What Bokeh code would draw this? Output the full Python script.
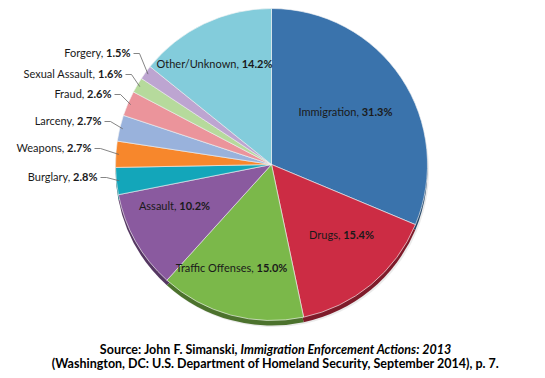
import glob
import numpy as np
from bokeh.plotting import figure
from bokeh.models import Range1d, ColumnDataSource
from bokeh.core.properties import value
from bokeh.embed import file_html
from bokeh.resources import INLINE

# ---------------- data ----------------
categories = ["Immigration", "Drugs", "Traffic Offenses", "Assault", "Burglary",
              "Weapons", "Larceny", "Fraud", "Sexual Assault", "Forgery", "Other/Unknown"]
shares = [31.3, 15.4, 15.0, 10.2, 2.8, 2.7, 2.7, 2.6, 1.6, 1.5, 14.2]
colors = ["#3A73AC", "#CC2C44", "#7BB84A", "#8A5A9F", "#13A6BA", "#F7872C",
          "#99B2DC", "#EB949B", "#B6DA9C", "#BDA5D1", "#83CCDB"]
source_line1 = "Source: John F. Simanski, "
source_line1_it = "Immigration Enforcement Actions: 2013"
source_line2 = "(Washington, DC: U.S. Department of Homeland Security, September 2014), p. 7."

# ---------------- layout ----------------
W, H = 545, 378
CX, CY, R = 271.0, -164.0, 156.0
FONT = "Lato"
FS = 11
inside = {
    "Immigration": (345, 111),
    "Drugs": (341, 234),
    "Traffic Offenses": (231, 267),
    "Assault": (174, 205),
    "Other/Unknown": (214, 63),
}
outside = {
    "Burglary": (97, 176),
    "Weapons": (91, 147),
    "Larceny": (101, 120),
    "Fraud": (111, 93),
    "Sexual Assault": (122, 73),
    "Forgery": (130, 52),
}


def find_font(name):
    for pat in ["/usr/share/fonts/**/" + name, "/usr/local/share/fonts/**/" + name,
                "/root/.fonts/**/" + name]:
        hits = glob.glob(pat, recursive=True)
        if hits:
            return hits[0]
    return None


try:
    from PIL import ImageFont
    _reg = find_font("Lato-Regular.ttf")
    _bold = find_font("Lato-Bold.ttf")
    _bi = find_font("Lato-BoldItalic.ttf") or _bold

    def tw(s, size, kind="r"):
        path = {"r": _reg, "b": _bold, "bi": _bi}[kind]
        return ImageFont.truetype(path, size=size * 4).getlength(s) / 4.0
except Exception:
    def tw(s, size, kind="r"):
        return len(s) * size * (0.5 if kind == "r" else 0.56)


def darker(hexc, f=0.62):
    h = hexc.lstrip("#")
    r, g, b = (int(h[i:i + 2], 16) for i in (0, 2, 4))
    return "#%02x%02x%02x" % (int(r * f), int(g * f), int(b * f))


vals = np.array(shares) / sum(shares)
cum = np.concatenate([[0], np.cumsum(vals)])
theta1 = 2 * np.pi * cum[:-1]
theta2 = 2 * np.pi * cum[1:]
start = np.pi / 2 - theta2
end = np.pi / 2 - theta1
mid = (theta1 + theta2) / 2

src = ColumnDataSource(dict(start=start, end=end, color=colors,
                            dark=[darker(c) for c in colors]))

p = figure(width=W, height=H, output_backend="svg", toolbar_location=None,
           x_range=Range1d(0, W), y_range=Range1d(-H, 0),
           min_border=0, outline_line_color=None)
p.axis.visible = False
p.grid.visible = False
p.background_fill_color = "white"

# 3-D rim/shadow
p.wedge(x=CX + 1.5, y=CY - 6.5, radius=R, start_angle="start", end_angle="end",
        fill_color="#cccccc", line_color=None, fill_alpha=0.4, source=src)
p.wedge(x=CX, y=CY - 5, radius=R, start_angle="start", end_angle="end",
        fill_color="dark", line_color=None, source=src)
p.wedge(x=CX, y=CY, radius=R, start_angle="start", end_angle="end",
        fill_color="color", line_color="#f4f4f4", line_width=0.8, line_alpha=0.8,
        source=src)

reg_x, reg_y, reg_t, reg_a = [], [], [], []
bold_x, bold_y, bold_t, bold_a = [], [], [], []
lx, ly = [], []
for i, (name, s) in enumerate(zip(categories, shares)):
    rtxt = name + ", "
    btxt = "%.1f%%" % s
    wr = tw(rtxt, FS, "r")
    wb = tw(btxt, FS, "b")
    if name in inside:
        px, py = inside[name]
        left = px - (wr + wb) / 2
        reg_x.append(left); reg_y.append(-py); reg_t.append(rtxt); reg_a.append("left")
        bold_x.append(left + wr); bold_y.append(-py); bold_t.append(btxt); bold_a.append("left")
    else:
        px, py = outside[name]
        reg_x.append(px - wb); reg_y.append(-py); reg_t.append(rtxt); reg_a.append("right")
        bold_x.append(px); bold_y.append(-py); bold_t.append(btxt); bold_a.append("right")
        ex = CX + (R - 3) * np.sin(mid[i])
        ey = CY + (R - 3) * np.cos(mid[i])
        lx.append([px + 3, px + 9, ex])
        ly.append([-py - 1, -py - 1, ey])

p.multi_line(xs=lx, ys=ly, line_color="#666666", line_width=0.8)
p.text(x=reg_x, y=reg_y, text=reg_t, text_align=reg_a, text_baseline="middle",
       text_font=value(FONT), text_font_size="%dpx" % FS, text_color="#1a1a1a")
p.text(x=bold_x, y=bold_y, text=bold_t, text_align=bold_a, text_baseline="middle",
       text_font=value(FONT), text_font_size="%dpx" % FS, text_font_style="bold",
       text_color="#1a1a1a")

# source note
SFS = 12.5
w1 = tw(source_line1, SFS, "b")
w2 = tw(source_line1_it, SFS, "bi")
l1 = 275 - (w1 + w2) / 2
p.text(x=[l1], y=[-349], text=[source_line1], text_align="left", text_baseline="middle",
       text_font=value(FONT), text_font_size="%.1fpx" % SFS, text_font_style="bold",
       text_color="black")
p.text(x=[l1 + w1], y=[-349], text=[source_line1_it], text_align="left",
       text_baseline="middle", text_font=value(FONT), text_font_size="%.1fpx" % SFS,
       text_font_style="bold italic", text_color="black")
p.text(x=[275], y=[-363], text=[source_line2], text_align="center", text_baseline="middle",
       text_font=value(FONT), text_font_size="%.1fpx" % SFS, text_font_style="bold",
       text_color="black")

open("out.html", "w").write(file_html(p, INLINE))
